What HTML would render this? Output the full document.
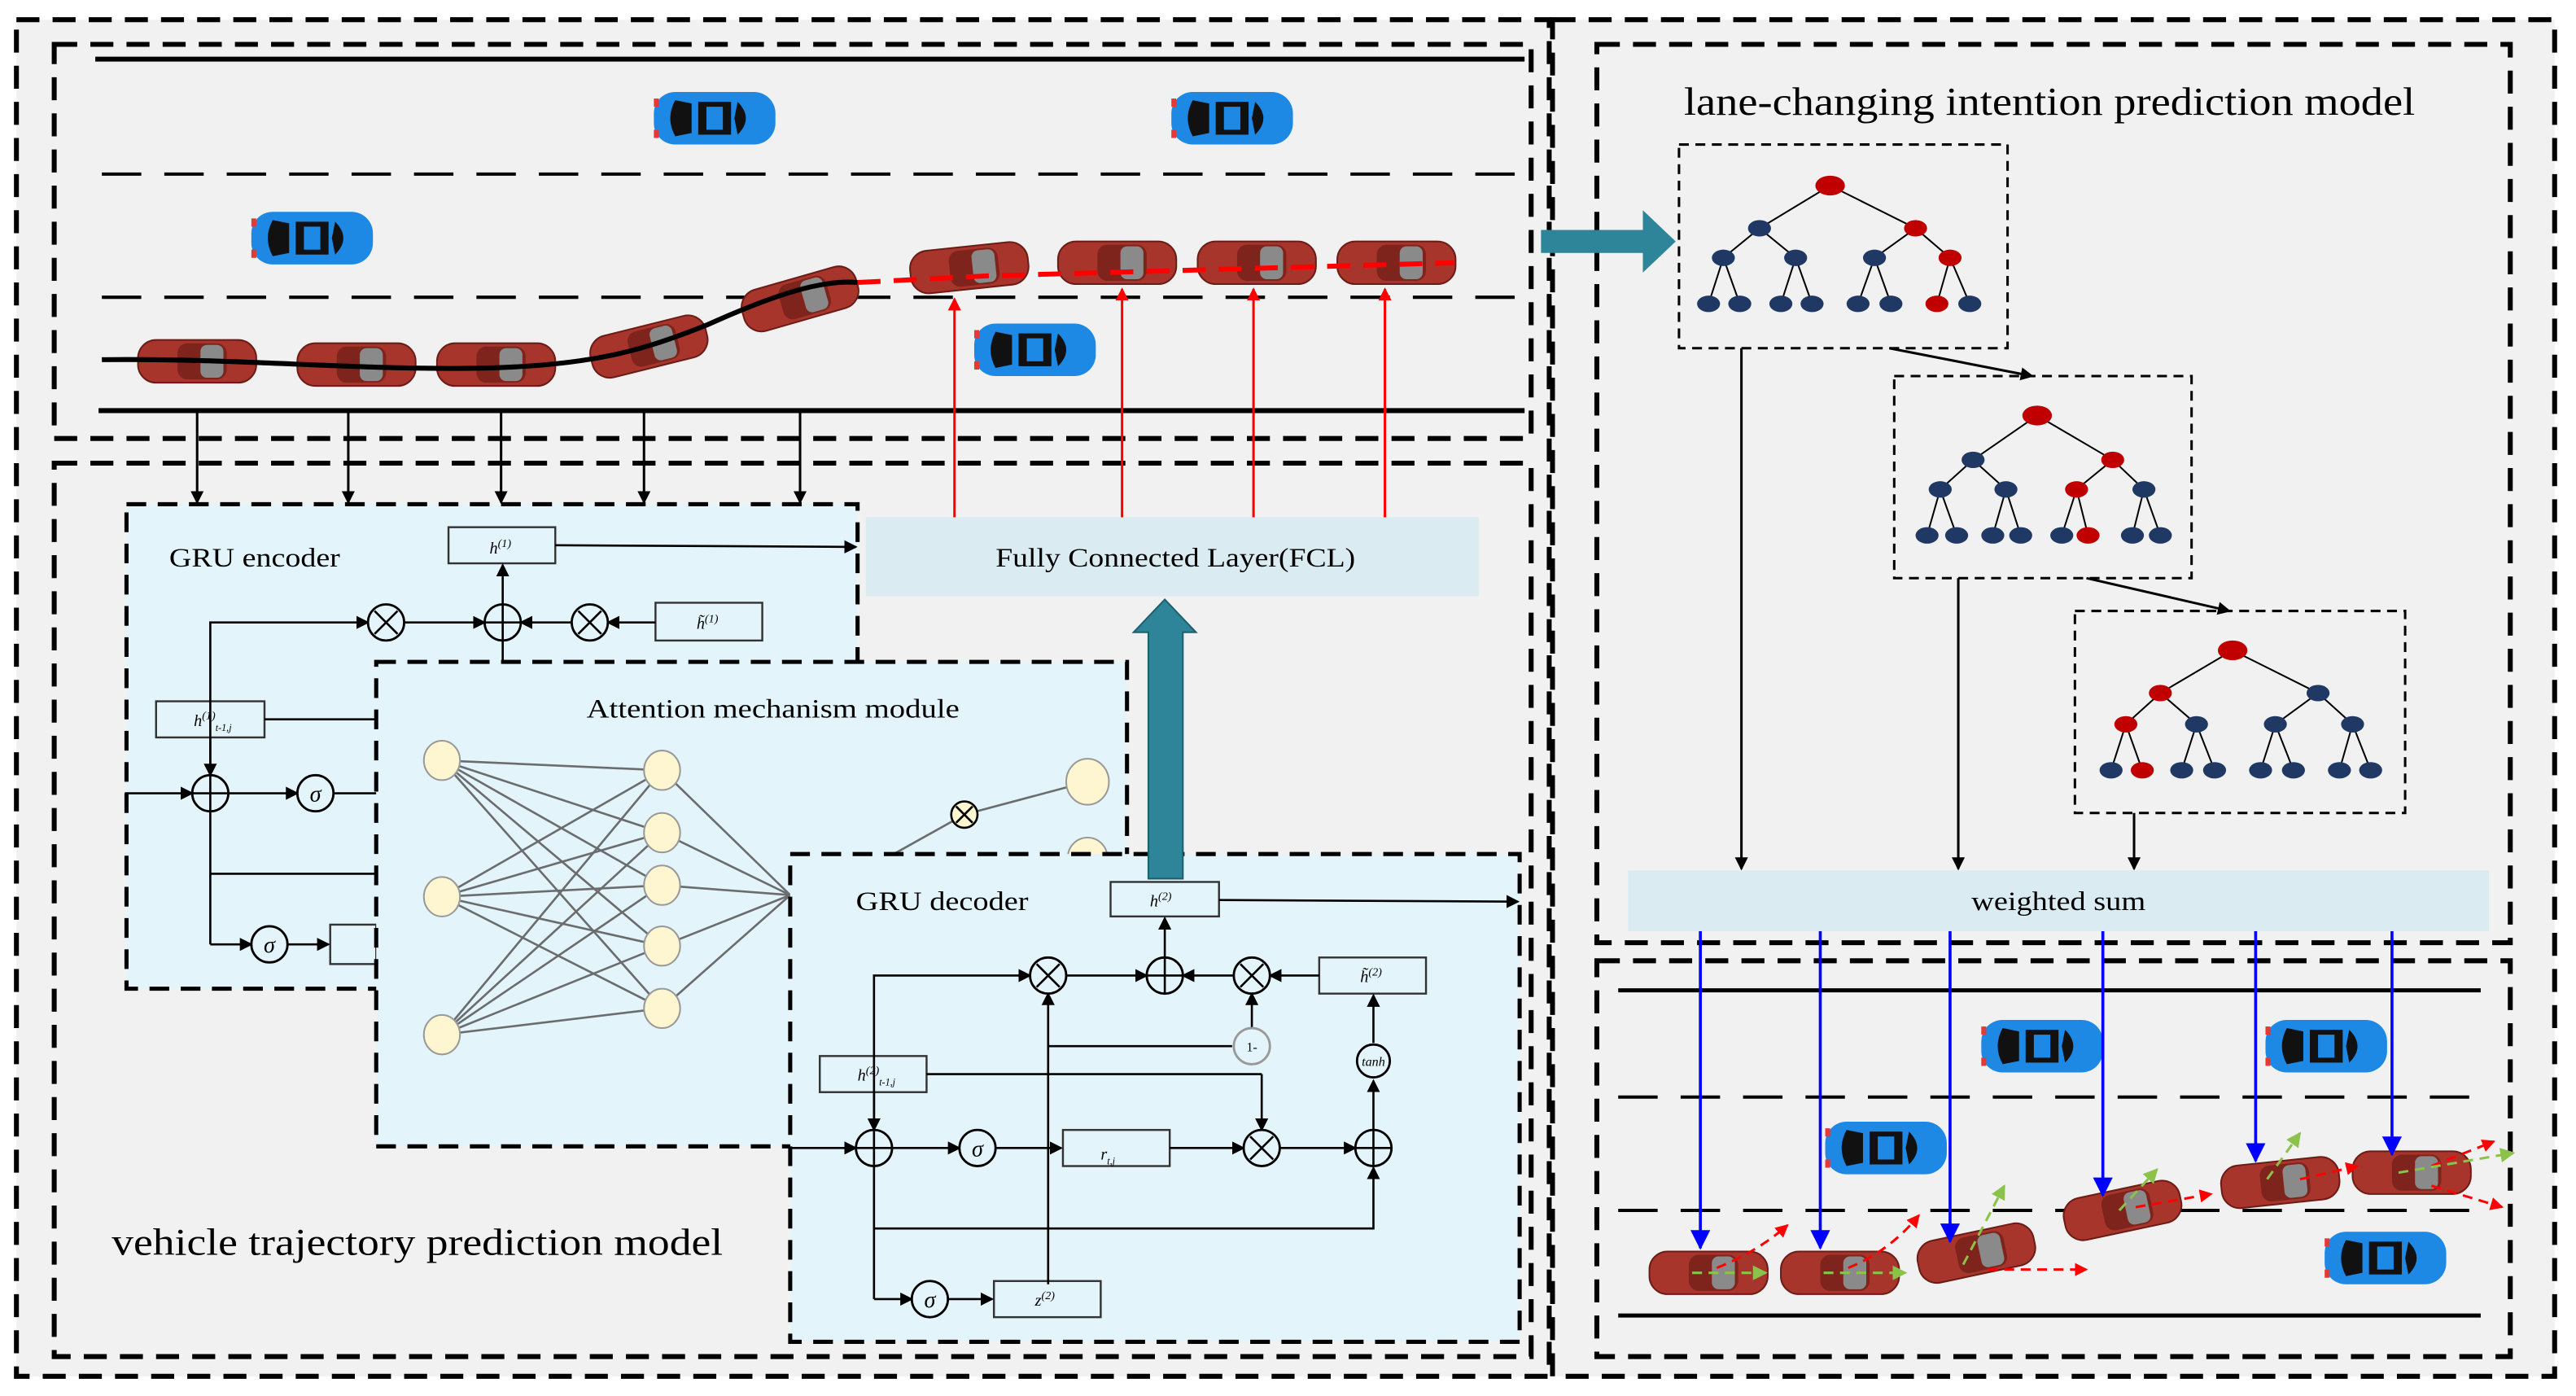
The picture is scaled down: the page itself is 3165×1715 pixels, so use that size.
<!DOCTYPE html>
<html><head><meta charset="utf-8"><style>
html,body{margin:0;padding:0;background:#fff;}
svg{display:block;}
text{font-family:"Liberation Serif",serif;}
</style></head><body>
<svg width="3165" height="1715" viewBox="0 0 1568 850" preserveAspectRatio="none" xmlns="http://www.w3.org/2000/svg">
<defs>
<marker id="ab" markerWidth="8" markerHeight="8" refX="7" refY="4" orient="auto" markerUnits="userSpaceOnUse"><path d="M0,0 L8,4 L0,8 z" fill="#000"/></marker>
<marker id="ar" markerWidth="8" markerHeight="8" refX="7" refY="4" orient="auto" markerUnits="userSpaceOnUse"><path d="M0,0 L8,4 L0,8 z" fill="#f00"/></marker>
<marker id="abl" markerWidth="12" markerHeight="12" refX="11" refY="6" orient="auto" markerUnits="userSpaceOnUse"><path d="M0,0 L12,6 L0,12 z" fill="#00f"/></marker>
<marker id="ag" markerWidth="9" markerHeight="9" refX="8" refY="4.5" orient="auto" markerUnits="userSpaceOnUse"><path d="M0,0 L9,4.5 L0,9 z" fill="#8bc34a"/></marker>
<g id="blue">
<rect x="-37" y="-16" width="74" height="32" rx="13" fill="#1e88e5"/>
<path d="M-24,-11 Q-30,0 -24,11 L-14,9 L-14,-9 z" fill="#111"/>
<rect x="-10" y="-10" width="20" height="20" fill="#111"/>
<rect x="-5" y="-7" width="10" height="14" fill="#1e88e5"/>
<path d="M14,-10 Q24,0 14,10 L12,0 z" fill="#111"/>
<rect x="-37" y="-12" width="3" height="5" fill="#e53935"/><rect x="-37" y="7" width="3" height="5" fill="#e53935"/>
</g>
<g id="red">
<rect x="-36" y="-13" width="72" height="26" rx="11" fill="#a8352c" stroke="#6b1c16" stroke-width="1"/>
<rect x="-12" y="-11" width="30" height="22" rx="6" fill="#7e241d"/>
<rect x="2" y="-10" width="14" height="20" rx="4" fill="#8a8a8a"/>
</g>
</defs>

<rect x="10" y="12" width="933" height="826" fill="#f1f1f1" stroke="#000" stroke-width="3" stroke-dasharray="14,8"/>
<rect x="945" y="12" width="610" height="826" fill="#f1f1f1" stroke="#000" stroke-width="3" stroke-dasharray="14,8"/>

<rect x="33" y="27" width="899" height="240" fill="#f1f1f1" stroke="#000" stroke-width="3" stroke-dasharray="14,8"/>
<line x1="58" y1="36" x2="928" y2="36" stroke="#000" stroke-width="3"/>
<line x1="62" y1="106" x2="928" y2="106" stroke="#000" stroke-width="2" stroke-dasharray="24,14"/>
<line x1="62" y1="181" x2="928" y2="181" stroke="#000" stroke-width="2" stroke-dasharray="24,14"/>
<line x1="60" y1="250" x2="928" y2="250" stroke="#000" stroke-width="3"/>
<use href="#blue" x="435" y="72"/><use href="#blue" x="750" y="72"/><use href="#blue" x="190" y="145"/><use href="#blue" x="630" y="213"/>
<use href="#red" x="120" y="220"/><use href="#red" x="217" y="222"/><use href="#red" x="302" y="222"/>
<use href="#red" transform="translate(395,211) rotate(-14)"/><use href="#red" transform="translate(487,182) rotate(-16)"/>
<use href="#red" transform="translate(590,163) rotate(-6)"/><use href="#red" x="680" y="160"/><use href="#red" x="765" y="160"/><use href="#red" x="850" y="160"/>
<path d="M62,219 C150,218 220,226 300,224 C360,222 390,214 430,198 C470,180 500,170 522,172" fill="none" stroke="#000" stroke-width="3"/>
<path d="M522,172 L600,168 L885,160" fill="none" stroke="#f00" stroke-width="3" stroke-dasharray="14,8"/>

<rect x="33" y="282" width="899" height="544" fill="#f1f1f1" stroke="#000" stroke-width="3" stroke-dasharray="14,8"/>
<g stroke="#000" stroke-width="1.5" marker-end="url(#ab)">
<line x1="120" y1="250" x2="120" y2="306"/><line x1="212" y1="250" x2="212" y2="306"/><line x1="305" y1="250" x2="305" y2="306"/><line x1="392" y1="250" x2="392" y2="306"/><line x1="487" y1="250" x2="487" y2="306"/>
</g>
<g stroke="#f00" stroke-width="1.5" marker-end="url(#ar)">
<line x1="581" y1="315" x2="581" y2="182"/><line x1="683" y1="315" x2="683" y2="176"/><line x1="763" y1="315" x2="763" y2="176"/><line x1="843" y1="315" x2="843" y2="176"/>
</g>

<rect x="77" y="307" width="445" height="295" fill="#e3f4fb" stroke="#000" stroke-width="2.5" stroke-dasharray="12,7"/>
<text x="103" y="345" font-size="16" textLength="104" lengthAdjust="spacingAndGlyphs">GRU encoder</text>
<g stroke="#333" stroke-width="1.2" fill="#e3f4fb">
<rect x="273" y="321" width="65" height="22"/><rect x="399" y="367" width="65" height="23"/><rect x="95" y="427" width="66" height="22"/><rect x="201" y="563" width="28" height="24"/>
</g>
<text x="298" y="337" font-size="10" font-style="italic">h<tspan font-size="7" dy="-4">(1)</tspan></text>
<text x="424" y="383" font-size="10" font-style="italic">h̃<tspan font-size="7" dy="-4">(1)</tspan></text>
<text x="118" y="442" font-size="10" font-style="italic">h<tspan font-size="7" dy="-4">(1)</tspan><tspan font-size="6" dy="7">t-1,j</tspan></text>
<g stroke="#000" stroke-width="1.3" fill="none">
<line x1="338" y1="332" x2="521" y2="333" marker-end="url(#ab)"/>
<polyline points="128,575 128,379 224,379" marker-end="url(#ab)"/>
<line x1="246" y1="379" x2="295" y2="379" marker-end="url(#ab)"/>
<line x1="348" y1="379" x2="317" y2="379" marker-end="url(#ab)"/>
<line x1="399" y1="379" x2="370" y2="379" marker-end="url(#ab)"/>
<line x1="306" y1="368" x2="306" y2="344" marker-end="url(#ab)"/>
<line x1="306" y1="390" x2="306" y2="403"/>
<line x1="161" y1="438" x2="229" y2="438"/>
<line x1="128" y1="449" x2="128" y2="472" marker-end="url(#ab)"/>
<line x1="76" y1="483" x2="117" y2="483" marker-end="url(#ab)"/>
<line x1="139" y1="483" x2="181" y2="483" marker-end="url(#ab)"/>
<line x1="203" y1="483" x2="229" y2="483"/>
<line x1="128" y1="532" x2="229" y2="532"/>
<line x1="128" y1="575" x2="153" y2="575" marker-end="url(#ab)"/>
<line x1="175" y1="575" x2="200" y2="575" marker-end="url(#ab)"/>
</g>

<rect x="527" y="315" width="373" height="48" fill="#daebf1"/>
<text x="606" y="345" font-size="16" textLength="219" lengthAdjust="spacingAndGlyphs">Fully Connected Layer(FCL)</text>

<rect x="229" y="403" width="457" height="295" fill="#e3f4fb" stroke="#000" stroke-width="2.5" stroke-dasharray="12,7"/>
<text x="357" y="437" font-size="16" textLength="227" lengthAdjust="spacingAndGlyphs">Attention mechanism module</text>
<g stroke="#555" stroke-width="1.3" opacity="0.85">
<line x1="269" y1="463" x2="403" y2="469"/><line x1="269" y1="463" x2="403" y2="507"/><line x1="269" y1="463" x2="403" y2="539"/><line x1="269" y1="463" x2="403" y2="576"/><line x1="269" y1="463" x2="403" y2="614"/>
<line x1="269" y1="546" x2="403" y2="469"/><line x1="269" y1="546" x2="403" y2="507"/><line x1="269" y1="546" x2="403" y2="539"/><line x1="269" y1="546" x2="403" y2="576"/><line x1="269" y1="546" x2="403" y2="614"/>
<line x1="269" y1="630" x2="403" y2="469"/><line x1="269" y1="630" x2="403" y2="507"/><line x1="269" y1="630" x2="403" y2="539"/><line x1="269" y1="630" x2="403" y2="576"/><line x1="269" y1="630" x2="403" y2="614"/>
<line x1="403" y1="469" x2="481" y2="545"/><line x1="403" y1="507" x2="481" y2="545"/><line x1="403" y1="539" x2="481" y2="545"/><line x1="403" y1="576" x2="481" y2="545"/><line x1="403" y1="614" x2="481" y2="545"/>
<polyline points="544,520 587,496 662,476" fill="none"/>
</g>
<g fill="#fdf6d0" stroke="#999" stroke-width="1">
<ellipse cx="269" cy="463" rx="11" ry="12"/><ellipse cx="269" cy="546" rx="11" ry="12"/><ellipse cx="269" cy="630" rx="11" ry="12"/>
<ellipse cx="403" cy="469" rx="11" ry="12"/><ellipse cx="403" cy="507" rx="11" ry="12"/><ellipse cx="403" cy="539" rx="11" ry="12"/><ellipse cx="403" cy="576" rx="11" ry="12"/><ellipse cx="403" cy="614" rx="11" ry="12"/>
<ellipse cx="662" cy="476" rx="13" ry="14"/><ellipse cx="662" cy="522" rx="12" ry="12"/>
</g>
<circle cx="587" cy="496" r="8" fill="#fdf6d0" stroke="#000" stroke-width="1.3"/>
<path d="M582,491 L592,501 M592,491 L582,501" stroke="#000" stroke-width="1.3"/>

<rect x="481" y="520" width="444" height="297" fill="#e3f4fb" stroke="#000" stroke-width="2.5" stroke-dasharray="12,7"/>
<text x="521" y="554" font-size="16" textLength="105" lengthAdjust="spacingAndGlyphs">GRU decoder</text>
<g stroke="#333" stroke-width="1.2" fill="#e3f4fb">
<rect x="676" y="537" width="66" height="21"/><rect x="803" y="583" width="65" height="22"/><rect x="499" y="643" width="65" height="22"/><rect x="647" y="688" width="65" height="22"/><rect x="605" y="780" width="65" height="22"/>
</g>
<text x="700" y="552" font-size="10" font-style="italic">h<tspan font-size="7" dy="-4">(2)</tspan></text>
<text x="828" y="598" font-size="10" font-style="italic">h̃<tspan font-size="7" dy="-4">(2)</tspan></text>
<text x="522" y="658" font-size="10" font-style="italic">h<tspan font-size="7" dy="-4">(2)</tspan><tspan font-size="6" dy="7">t-1,j</tspan></text>
<text x="670" y="706" font-size="10" font-style="italic">r<tspan font-size="6" dy="3">t,j</tspan></text>
<text x="630" y="795" font-size="10" font-style="italic">z<tspan font-size="7" dy="-4">(2)</tspan></text>
<g stroke="#000" stroke-width="1.3" fill="none">
<line x1="742" y1="548" x2="924" y2="549" marker-end="url(#ab)"/>
<polyline points="532,791 532,594 627,594" marker-end="url(#ab)"/>
<line x1="649" y1="594" x2="698" y2="594" marker-end="url(#ab)"/>
<line x1="751" y1="594" x2="720" y2="594" marker-end="url(#ab)"/>
<line x1="803" y1="594" x2="773" y2="594" marker-end="url(#ab)"/>
<line x1="709" y1="583" x2="709" y2="559" marker-end="url(#ab)"/>
<line x1="638" y1="782" x2="638" y2="605" marker-end="url(#ab)"/>
<line x1="638" y1="637" x2="750" y2="637"/>
<line x1="762" y1="626" x2="762" y2="605" marker-end="url(#ab)"/>
<line x1="564" y1="654" x2="768" y2="654"/>
<line x1="768" y1="654" x2="768" y2="688" marker-end="url(#ab)"/>
<line x1="532" y1="665" x2="532" y2="688" marker-end="url(#ab)"/>
<line x1="480" y1="699" x2="521" y2="699" marker-end="url(#ab)"/>
<line x1="543" y1="699" x2="584" y2="699" marker-end="url(#ab)"/>
<line x1="606" y1="699" x2="646" y2="699" marker-end="url(#ab)"/>
<line x1="712" y1="699" x2="757" y2="699" marker-end="url(#ab)"/>
<line x1="779" y1="699" x2="825" y2="699" marker-end="url(#ab)"/>
<line x1="836" y1="688" x2="836" y2="658" marker-end="url(#ab)"/>
<line x1="836" y1="635" x2="836" y2="606" marker-end="url(#ab)"/>
<polyline points="532,748 836,748 836,711" marker-end="url(#ab)"/>
<line x1="532" y1="791" x2="555" y2="791" marker-end="url(#ab)"/>
<line x1="577" y1="791" x2="604" y2="791" marker-end="url(#ab)"/>
</g>
<g fill="#e3f4fb" stroke="#000" stroke-width="1.4">
<circle cx="235" cy="379" r="11"/><circle cx="306" cy="379" r="11"/><circle cx="359" cy="379" r="11"/>
<circle cx="128" cy="483" r="11"/><circle cx="192" cy="483" r="11"/><circle cx="164" cy="575" r="11"/>
<circle cx="638" cy="594" r="11"/><circle cx="709" cy="594" r="11"/><circle cx="762" cy="594" r="11"/>
<circle cx="532" cy="699" r="11"/><circle cx="595" cy="699" r="11"/><circle cx="768" cy="699" r="11"/><circle cx="836" cy="699" r="11"/>
<circle cx="836" cy="646" r="10"/><circle cx="566" cy="791" r="11"/>
<circle cx="762" cy="637" r="11" stroke="#999"/>
</g>
<g stroke="#000" stroke-width="1.3">
<path d="M228,372 L242,386 M242,372 L228,386"/><path d="M352,372 L366,386 M366,372 L352,386"/>
<path d="M631,587 L645,601 M645,587 L631,601"/><path d="M755,587 L769,601 M769,587 L755,601"/><path d="M761,692 L775,706 M775,692 L761,706"/>
<path d="M295,379 L317,379 M306,368 L306,390"/><path d="M117,483 L139,483 M128,472 L128,494"/>
<path d="M698,594 L720,594 M709,583 L709,605"/><path d="M521,699 L543,699 M532,688 L532,710"/><path d="M825,699 L847,699 M836,688 L836,710"/>
</g>
<g font-size="14" font-style="italic" text-anchor="middle">
<text x="192" y="488">σ</text><text x="164" y="580">σ</text><text x="595" y="704">σ</text><text x="566" y="796">σ</text>
</g>
<text x="762" y="640" font-size="8" text-anchor="middle">1-</text>
<text x="836" y="649" font-size="8" font-style="italic" text-anchor="middle">tanh</text>

<path d="M699,535 L699,385 L690,385 L709,365 L728,385 L720,385 L720,535 z" fill="#2e8599" stroke="#1d5f6d" stroke-width="1"/>

<text x="68" y="764" font-size="23" textLength="372" lengthAdjust="spacingAndGlyphs">vehicle trajectory prediction model</text>

<rect x="972" y="27" width="556" height="547" fill="#f1f1f1" stroke="#000" stroke-width="3" stroke-dasharray="14,8"/>
<text x="1025" y="70" font-size="24" textLength="445" lengthAdjust="spacingAndGlyphs">lane-changing intention prediction model</text>
<path d="M938,140 L1000,140 L1000,128 L1020,147 L1000,166 L1000,154 L938,154 z" fill="#2e8599"/>

<g fill="#f1f1f1" stroke="#000" stroke-width="1.5" stroke-dasharray="6,4">
<rect x="1022" y="88" width="200" height="124"/><rect x="1153" y="229" width="181" height="123"/><rect x="1263" y="372" width="201" height="123"/>
</g>
<g stroke="#000" stroke-width="1">
<path d="M1114,113 L1071,139 M1114,113 L1166,139 M1071,139 L1049,157 M1071,139 L1093,157 M1166,139 L1141,157 M1166,139 L1187,157 M1049,157 L1040,185 M1049,157 L1059,185 M1093,157 L1084,185 M1093,157 L1103,185 M1141,157 L1131,185 M1141,157 L1151,185 M1187,157 L1179,185 M1187,157 L1199,185"/>
<path d="M1240,253 L1201,280 M1240,253 L1286,280 M1201,280 L1181,298 M1201,280 L1221,298 M1286,280 L1264,298 M1286,280 L1305,298 M1181,298 L1173,326 M1181,298 L1191,326 M1221,298 L1213,326 M1221,298 L1230,326 M1264,298 L1255,326 M1264,298 L1271,326 M1305,298 L1298,326 M1305,298 L1315,326"/>
<path d="M1359,396 L1315,422 M1359,396 L1411,422 M1315,422 L1294,441 M1315,422 L1337,441 M1411,422 L1385,441 M1411,422 L1432,441 M1294,441 L1285,469 M1294,441 L1304,469 M1337,441 L1328,469 M1337,441 L1348,469 M1385,441 L1376,469 M1385,441 L1396,469 M1432,441 L1424,469 M1432,441 L1443,469"/>
</g>
<g fill="#1f3864">
<ellipse cx="1071" cy="139" rx="7" ry="5"/><ellipse cx="1049" cy="157" rx="7" ry="5"/><ellipse cx="1093" cy="157" rx="7" ry="5"/><ellipse cx="1141" cy="157" rx="7" ry="5"/>
<ellipse cx="1040" cy="185" rx="7" ry="5"/><ellipse cx="1059" cy="185" rx="7" ry="5"/><ellipse cx="1084" cy="185" rx="7" ry="5"/><ellipse cx="1103" cy="185" rx="7" ry="5"/><ellipse cx="1131" cy="185" rx="7" ry="5"/><ellipse cx="1151" cy="185" rx="7" ry="5"/><ellipse cx="1199" cy="185" rx="7" ry="5"/>
<ellipse cx="1201" cy="280" rx="7" ry="5"/><ellipse cx="1181" cy="298" rx="7" ry="5"/><ellipse cx="1221" cy="298" rx="7" ry="5"/><ellipse cx="1305" cy="298" rx="7" ry="5"/>
<ellipse cx="1173" cy="326" rx="7" ry="5"/><ellipse cx="1191" cy="326" rx="7" ry="5"/><ellipse cx="1213" cy="326" rx="7" ry="5"/><ellipse cx="1230" cy="326" rx="7" ry="5"/><ellipse cx="1255" cy="326" rx="7" ry="5"/><ellipse cx="1298" cy="326" rx="7" ry="5"/><ellipse cx="1315" cy="326" rx="7" ry="5"/>
<ellipse cx="1411" cy="422" rx="7" ry="5"/><ellipse cx="1337" cy="441" rx="7" ry="5"/><ellipse cx="1385" cy="441" rx="7" ry="5"/><ellipse cx="1432" cy="441" rx="7" ry="5"/>
<ellipse cx="1285" cy="469" rx="7" ry="5"/><ellipse cx="1328" cy="469" rx="7" ry="5"/><ellipse cx="1348" cy="469" rx="7" ry="5"/><ellipse cx="1376" cy="469" rx="7" ry="5"/><ellipse cx="1396" cy="469" rx="7" ry="5"/><ellipse cx="1424" cy="469" rx="7" ry="5"/><ellipse cx="1443" cy="469" rx="7" ry="5"/>
</g>
<g fill="#c00000">
<ellipse cx="1114" cy="113" rx="9" ry="6"/><ellipse cx="1166" cy="139" rx="7" ry="5"/><ellipse cx="1187" cy="157" rx="7" ry="5"/><ellipse cx="1179" cy="185" rx="7" ry="5"/>
<ellipse cx="1240" cy="253" rx="9" ry="6"/><ellipse cx="1286" cy="280" rx="7" ry="5"/><ellipse cx="1264" cy="298" rx="7" ry="5"/><ellipse cx="1271" cy="326" rx="7" ry="5"/>
<ellipse cx="1359" cy="396" rx="9" ry="6"/><ellipse cx="1315" cy="422" rx="7" ry="5"/><ellipse cx="1294" cy="441" rx="7" ry="5"/><ellipse cx="1304" cy="469" rx="7" ry="5"/>
</g>
<g stroke="#000" stroke-width="1.5" marker-end="url(#ab)">
<line x1="1150" y1="212" x2="1237" y2="229"/><line x1="1270" y1="352" x2="1357" y2="372"/>
<line x1="1060" y1="212" x2="1060" y2="529"/><line x1="1192" y1="352" x2="1192" y2="529"/><line x1="1299" y1="495" x2="1299" y2="529"/>
</g>
<rect x="991" y="530" width="524" height="37" fill="#daebf1"/>
<text x="1200" y="554" font-size="16" textLength="106" lengthAdjust="spacingAndGlyphs">weighted sum</text>

<rect x="972" y="585" width="556" height="241" fill="#f1f1f1" stroke="#000" stroke-width="3" stroke-dasharray="14,8"/>
<line x1="985" y1="603" x2="1510" y2="603" stroke="#000" stroke-width="2.5"/>
<line x1="985" y1="668" x2="1510" y2="668" stroke="#000" stroke-width="2" stroke-dasharray="24,14"/>
<line x1="985" y1="737" x2="1510" y2="737" stroke="#000" stroke-width="2" stroke-dasharray="24,14"/>
<line x1="985" y1="801" x2="1510" y2="801" stroke="#000" stroke-width="2.5"/>
<use href="#blue" x="1243" y="637"/><use href="#blue" x="1416" y="637"/><use href="#blue" x="1148" y="699"/><use href="#blue" x="1452" y="766"/>
<use href="#red" x="1040" y="775"/><use href="#red" x="1120" y="775"/>
<use href="#red" transform="translate(1203,763) rotate(-12)"/><use href="#red" transform="translate(1292,737) rotate(-12)"/>
<use href="#red" transform="translate(1388,720) rotate(-6)"/><use href="#red" x="1468" y="714"/>
<g stroke="#f00" stroke-width="1.5" stroke-dasharray="6,4" fill="none" marker-end="url(#ar)">
<path d="M1045,772 Q1070,762 1088,746"/><path d="M1125,772 Q1150,762 1168,740"/><path d="M1210,773 L1270,773"/>
<path d="M1300,735 L1346,727"/><path d="M1400,718 L1435,710"/><path d="M1480,710 L1518,695"/><path d="M1480,722 L1523,735"/>
</g>
<g stroke="#8bc34a" stroke-width="1.5" stroke-dasharray="6,4" fill="none" marker-end="url(#ag)">
<path d="M1030,775 L1075,775"/><path d="M1110,775 L1160,775"/><path d="M1195,770 L1220,722"/><path d="M1290,737 L1313,712"/>
<path d="M1380,718 L1400,690"/><path d="M1460,714 L1530,702"/>
</g>
<g stroke="#00f" stroke-width="1.8" marker-end="url(#abl)">
<line x1="1035" y1="567" x2="1035" y2="760"/><line x1="1108" y1="567" x2="1108" y2="760"/><line x1="1187" y1="567" x2="1187" y2="756"/>
<line x1="1280" y1="567" x2="1280" y2="728"/><line x1="1373" y1="567" x2="1373" y2="707"/><line x1="1456" y1="567" x2="1456" y2="703"/>
</g>
</svg>
</body></html>
